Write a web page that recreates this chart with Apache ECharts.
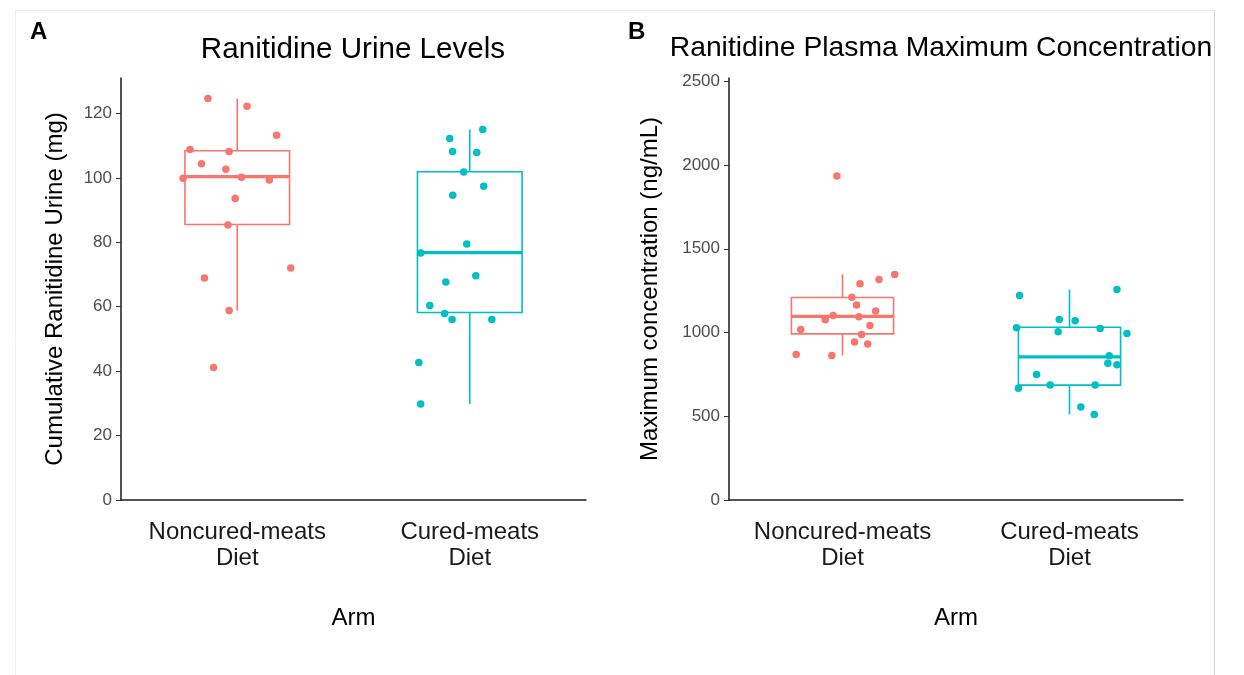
<!DOCTYPE html>
<html><head><meta charset="utf-8">
<script src="https://cdn.jsdelivr.net/npm/echarts@6/dist/echarts.min.js"></script>
<style>html,body{margin:0;padding:0;background:#fff}#c{width:1244px;height:675px}</style>
</head><body><div id="c"></div>
<script>
// ---------- data ----------
const categories = ['Noncured-meats\nDiet', 'Cured-meats\nDiet'];

const urineTicks = [0, 20, 40, 60, 80, 100, 120];
const plasmaTicks = [0, 500, 1000, 1500, 2000, 2500];

// Panel A: cumulative ranitidine urine (mg)
const urineNoncured = [124.6, 122.2, 113.2, 108.8, 108.2, 104.4, 102.7, 99.9, 100.2, 99.3, 93.6, 85.4, 72.0, 68.9, 58.8, 41.1];
const urineNoncuredJitter = [-0.126, 0.042, 0.169, -0.203, -0.035, -0.154, -0.049, -0.233, 0.018, 0.138, -0.009, -0.040, 0.230, -0.141, -0.035, -0.102];
const urineCured = [115.0, 112.2, 108.2, 107.9, 101.8, 97.4, 94.6, 79.5, 76.7, 69.6, 67.7, 60.4, 57.9, 56.0, 56.0, 42.7, 29.8];
const urineCuredJitter = [0.056, -0.086, -0.074, 0.030, -0.026, 0.060, -0.073, -0.013, -0.211, 0.026, -0.103, -0.172, -0.108, -0.076, 0.095, -0.219, -0.211];
// box stats: [lower whisker, Q1, median, Q3, upper whisker]
const urineBoxNoncured = [58.8, 85.5, 100.4, 108.4, 124.6];
const urineBoxCured = [29.8, 58.2, 76.8, 101.9, 115.0];

// Panel B: plasma maximum concentration (ng/mL)
const plasmaNoncured = [1935, 1347, 1317, 1291, 1211, 1165, 1128, 1102, 1094, 1076, 1042, 1018, 989, 943, 931, 869, 863];
const plasmaNoncuredJitter = [-0.025, 0.230, 0.161, 0.077, 0.041, 0.062, 0.146, -0.041, 0.072, -0.076, 0.121, -0.184, 0.084, 0.053, 0.111, -0.204, -0.047];
const plasmaCured = [1257, 1221, 1078, 1070, 1028, 1024, 1004, 995, 861, 816, 807, 750, 668, 686, 686, 555, 511];
const plasmaCuredJitter = [0.209, -0.220, -0.045, 0.025, -0.233, 0.135, -0.050, 0.253, 0.175, 0.169, 0.209, -0.145, -0.225, -0.085, 0.113, 0.050, 0.109];
const plasmaBoxNoncured = [863, 992, 1096, 1209, 1347];
const plasmaBoxCured = [511, 686, 855, 1032, 1257];

// ---------- chart ----------
const FONT = '"Liberation Sans", Arial, sans-serif';
const CORAL = '#F8766D', TEAL = '#00BFC4';
const chart = echarts.init(document.getElementById('c'));

function yAxisCfg(gridIndex, max, ticks, name, gap) {
  return {
    type: 'value', gridIndex, min: 0, max, name, nameLocation: 'middle', nameGap: gap, nameRotate: 90,
    nameTextStyle: { fontSize: 24, color: '#000', fontFamily: FONT },
    splitLine: { show: false },
    axisLine: { show: true, onZero: false, lineStyle: { color: '#1a1a1a', width: 1.5 } },
    axisTick: { show: true, length: 5, lineStyle: { color: '#333', width: 1 }, customValues: ticks },
    axisLabel: { customValues: ticks, color: '#4d4d4d', fontSize: 17, margin: 9, fontFamily: FONT,
      formatter: v => String(v) }
  };
}
function xCatCfg(gridIndex) {
  return {
    type: 'category', gridIndex, data: categories, boundaryGap: true,
    axisLine: { onZero: false, lineStyle: { color: '#1a1a1a', width: 1.5 } },
    axisTick: { alignWithLabel: true, length: 5, lineStyle: { color: '#333', width: 1 } },
    axisLabel: { fontSize: 24, color: '#1a1a1a', lineHeight: 26, margin: 19, fontFamily: FONT, interval: 0 },
    name: 'Arm', nameLocation: 'middle', nameGap: 106,
    nameTextStyle: { fontSize: 24, color: '#000', fontFamily: FONT }
  };
}
function xValCfg(gridIndex) {
  return { type: 'value', gridIndex, min: -0.5, max: 1.5, show: false };
}
function zipPts(catIdx, jit, vals) {
  return vals.map((v, i) => [catIdx + jit[i], v]);
}
function renderBox(params, api) {
  const x = api.value(0);
  const pMin = api.coord([x, api.value(1)]);
  const pQ1 = api.coord([x, api.value(2)]);
  const pMed = api.coord([x, api.value(3)]);
  const pQ3 = api.coord([x, api.value(4)]);
  const pMax = api.coord([x, api.value(5)]);
  const w = api.size([1, 0])[0] * 0.45;
  const cx = pMed[0];
  const col = api.visual('color');
  const thin = { stroke: col, lineWidth: 1.6, fill: null };
  return {
    type: 'group',
    children: [
      { type: 'line', shape: { x1: cx, y1: pMax[1], x2: cx, y2: pQ3[1] }, style: thin },
      { type: 'line', shape: { x1: cx, y1: pQ1[1], x2: cx, y2: pMin[1] }, style: thin },
      { type: 'rect', shape: { x: cx - w / 2, y: pQ3[1], width: w, height: pQ1[1] - pQ3[1] },
        style: { stroke: col, lineWidth: 1.6, fill: 'rgba(255,255,255,0)' } },
      { type: 'line', shape: { x1: cx - w / 2, y1: pMed[1], x2: cx + w / 2, y2: pMed[1] },
        style: { stroke: col, lineWidth: 3.2 } }
    ]
  };
}
function boxSeries(xi, yi, boxA, boxB) {
  return {
    type: 'custom', xAxisIndex: xi, yAxisIndex: yi, renderItem: renderBox, silent: true, z: 3,
    data: [
      { value: [0, ...boxA], itemStyle: { color: CORAL } },
      { value: [1, ...boxB], itemStyle: { color: TEAL } }
    ]
  };
}
function scat(xi, yi, data, color) {
  return { type: 'scatter', xAxisIndex: xi, yAxisIndex: yi, data, symbolSize: 7.5, silent: true, z: 5,
    itemStyle: { color, opacity: 1 } };
}

const titleStyleA = { fontSize: 29.6, fontWeight: 'normal', color: '#000', fontFamily: FONT };
const titleStyleB = { fontSize: 28.3, fontWeight: 'normal', color: '#000', fontFamily: FONT };
const tagStyle = { fontSize: 24, fontWeight: 'bold', color: '#000', fontFamily: FONT };

chart.setOption({
  animation: false,
  backgroundColor: '#fff',
  graphic: [
    { type: 'rect', silent: true, z: -10, shape: { x: 15.5, y: 10.5, width: 1199, height: 670 },
      style: { fill: 'none', stroke: '#eeeeee', lineWidth: 1 } },
    { type: 'line', silent: true, z: -9, shape: { x1: 1214.5, y1: 10, x2: 1214.5, y2: 675 },
      style: { stroke: '#d4d4d4', lineWidth: 1 } }
  ],
  title: [
    { text: 'A', left: 30, top: 20, padding: 0, textStyle: tagStyle },
    { text: 'B', left: 628, top: 20, padding: 0, textStyle: tagStyle },
    { text: 'Ranitidine Urine Levels', left: 353, top: 35, padding: 0, textAlign: 'center', textStyle: titleStyleA },
    { text: 'Ranitidine Plasma Maximum Concentration', left: 941, top: 34, padding: 0, textAlign: 'center', textStyle: titleStyleB }
  ],
  grid: [
    { left: 121, right: 658, top: 78, bottom: 175 },
    { left: 729, right: 61, top: 78, bottom: 175 }
  ],
  xAxis: [xCatCfg(0), xCatCfg(1), xValCfg(0), xValCfg(1)],
  yAxis: [
    yAxisCfg(0, 131, urineTicks, 'Cumulative Ranitidine Urine (mg)', 54),
    yAxisCfg(1, 2520, plasmaTicks, 'Maximum concentration (ng/mL)', 67)
  ],
  series: [
    boxSeries(0, 0, urineBoxNoncured, urineBoxCured),
    boxSeries(1, 1, plasmaBoxNoncured, plasmaBoxCured),
    scat(2, 0, zipPts(0, urineNoncuredJitter, urineNoncured), CORAL),
    scat(2, 0, zipPts(1, urineCuredJitter, urineCured), TEAL),
    scat(3, 1, zipPts(0, plasmaNoncuredJitter, plasmaNoncured), CORAL),
    scat(3, 1, zipPts(1, plasmaCuredJitter, plasmaCured), TEAL)
  ]
});
</script></body></html>
